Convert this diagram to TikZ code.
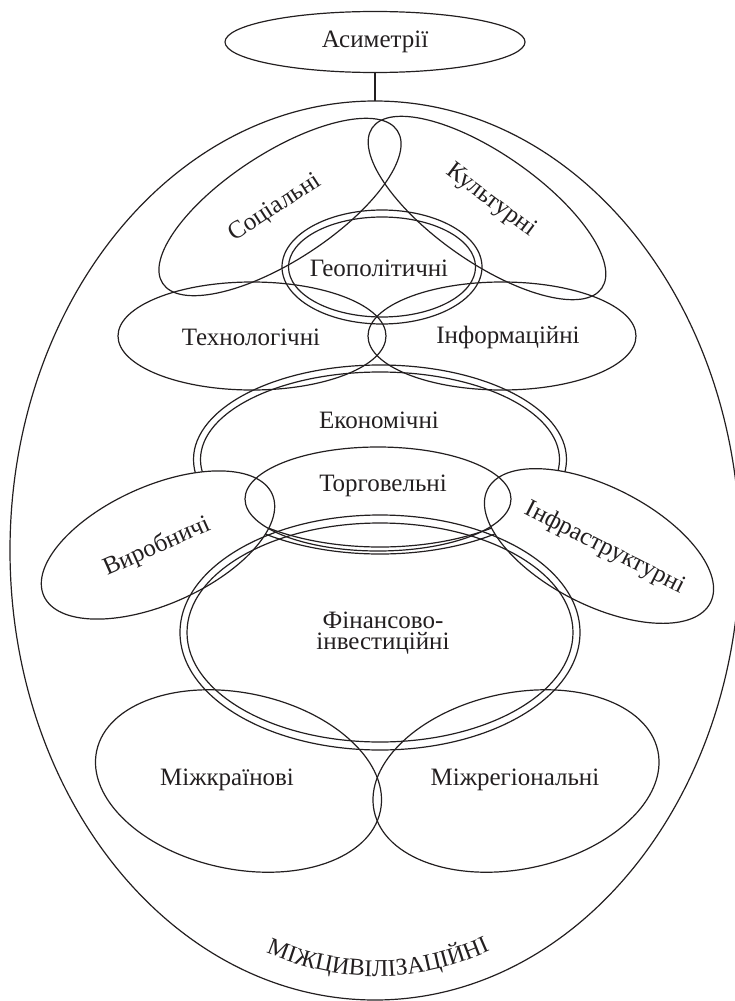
\documentclass[tikz,border=0pt]{standalone}
\usepackage{fontspec}
\setmainfont{Liberation Serif}
\usetikzlibrary{shapes.geometric,decorations.text}
\definecolor{ink}{HTML}{231F20}
\newcommand\curvefont{\fontsize{24}{24}\selectfont}
\begin{document}
\begin{tikzpicture}[x=1pt,y=-1pt,
  region/.style={ellipse, draw=ink, line width=1.2pt, inner sep=0pt, outer sep=0pt},
  sz/.style 2 args={minimum width=#1pt, minimum height=#2pt},
  cover/.style={fill=white},
  lbl/.style={font=\fontsize{25}{21}\selectfont, text=ink, inner sep=0pt, align=center},
  link/.style={draw=ink, line width=1.2pt},
]
\useasboundingbox (0,0) rectangle (734,1001);

% outer field and the title
\node[region, sz={730}{899}] (outer) at (375,550.5) {};
\node[region, sz={300}{61}, lbl] (asym) at (375,42) {Асиметрії};
\draw[link] (asym.south) -- (outer.north);

% upper petals
\node[region, sz={280}{108}, rotate=33] (soc) at (280,207) {};
\node[region, sz={280}{108}, rotate=-35] (kult) at (487,208) {};

% geopolitical core (double outline)
\node[region, sz={200}{114}] (geo) at (382,267) {};
\node[region, sz={187}{100}] (geoIn) at (382,267) {};

% technological / informational
\node[region, sz={268}{108}] (tech) at (252,336) {};
\node[region, sz={268}{108}] (info) at (502,336) {};

% economic (double outline)
\node[region, sz={373}{189}] (econ) at (380,459.5) {};
\node[region, sz={359}{175}] (econIn) at (380,459.5) {};

% side petals hide the economic outline beneath them
\node[region, cover, sz={250}{118}, rotate=24] (vyr) at (158,545) {};
\node[region, cover, sz={250}{118}, rotate=-27] (infr) at (599,546) {};

% trade
\node[region, sz={266}{104}] (torg) at (378,499) {};

% financial-investment (double outline)
\node[region, sz={400}{235}] (fin) at (380,632.5) {};
\node[region, sz={386}{219}] (finIn) at (380,632.5) {};

% lower petals
\node[region, sz={290}{176}, rotate=-12] (mkr) at (238.5,781) {};
\node[region, sz={290}{176}, rotate=12] (mreg) at (516,781) {};

% labels
\node[lbl, rotate=33] (socT) at (275,208) {Соціальні};
\node[lbl, rotate=-37] (kultT) at (491,201) {Культурні};
\node[lbl] (geoT) at (379,268) {Геополітичні};
\node[lbl] (techT) at (251,337) {Технологічні};
\node[lbl] (infoT) at (508,337) {Інформаційні};
\node[lbl] (econT) at (379,420) {Економічні};
\node[lbl] (torgT) at (383,486) {Торговельні};
\node[lbl, rotate=24] (vyrT) at (157,547) {Виробничі};
\node[lbl, rotate=-27] (infrT) at (605,548) {Інфраструктурні};
\node[lbl] (finT) at (383,633) {Фінансово-\\інвестиційні};
\node[lbl] (mkrT) at (227,780) {Міжкраїнові};
\node[lbl] (mregT) at (515,780) {Міжрегіональні};

% curved caption along the bottom of the outer field
\path[decorate, decoration={text along path, text align=center, text color=ink,
  text={|\curvefont|МІЖЦИВІЛІЗАЦІЙНІ}}]
  (262,951) .. controls (340,985) and (416,985) .. (494,949);
\end{tikzpicture}
\end{document}
